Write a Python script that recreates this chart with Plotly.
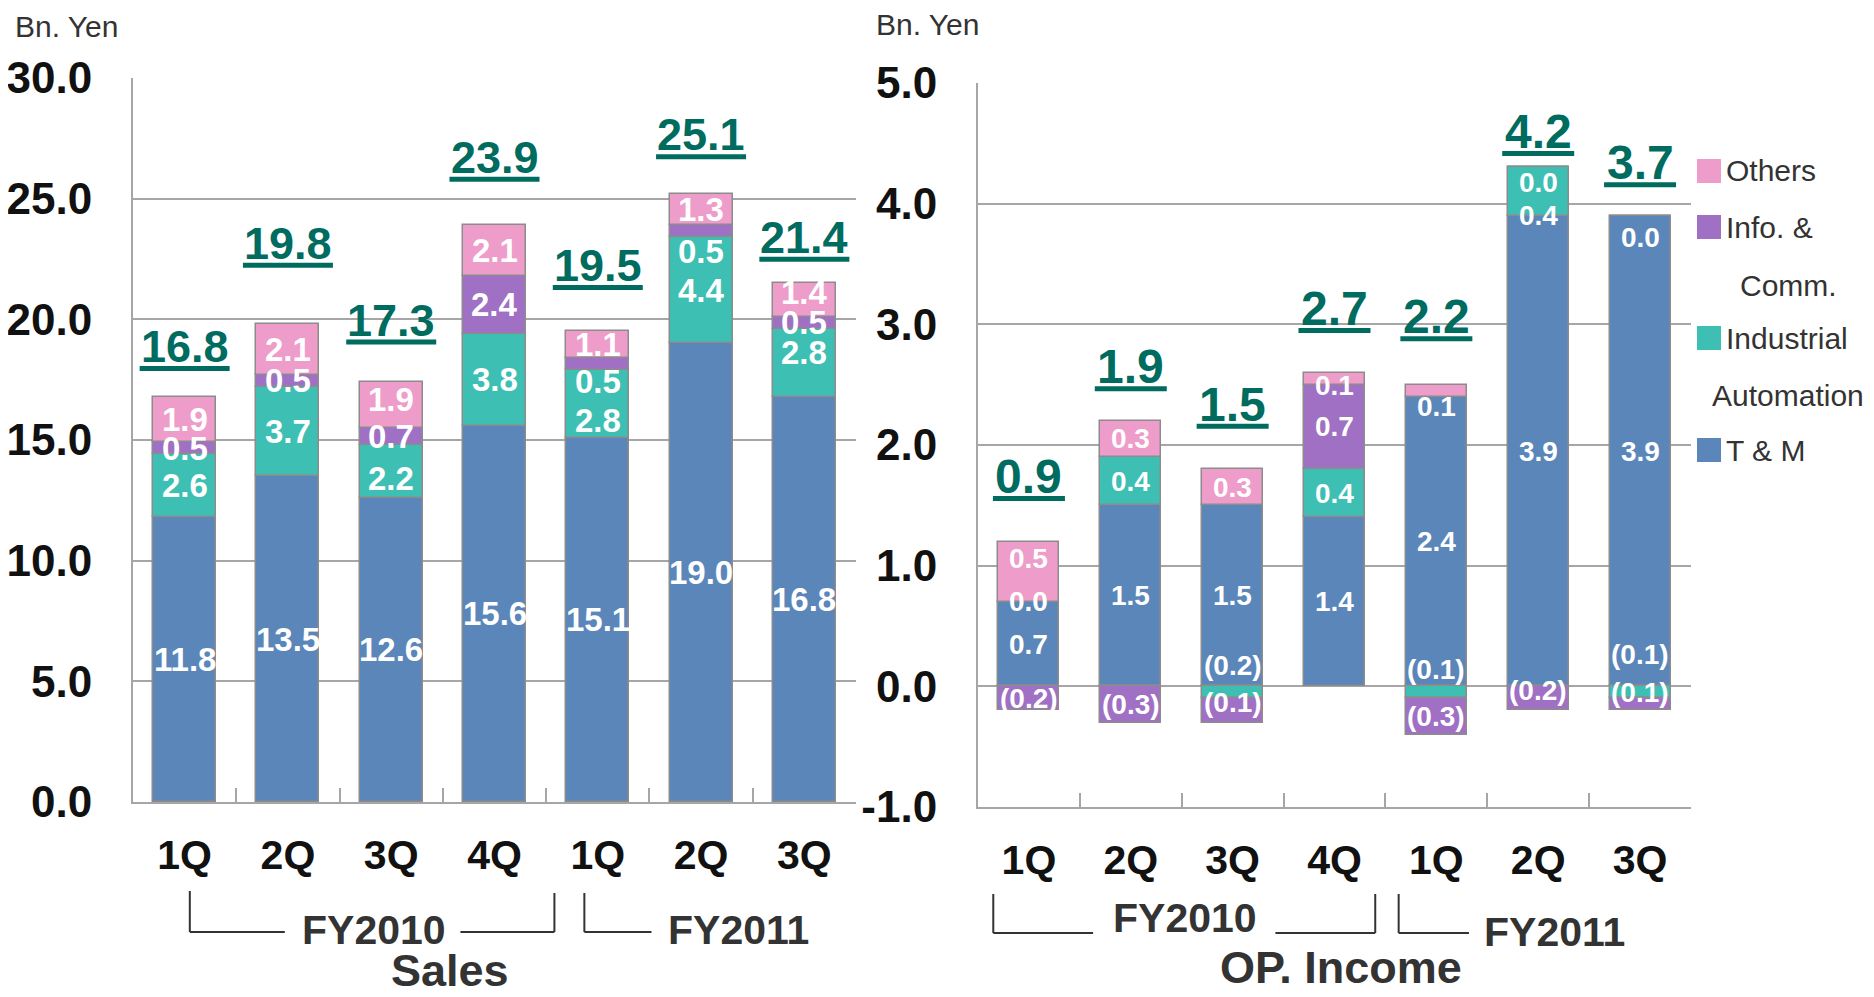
import plotly.graph_objects as go

# page body adds an 8px margin, so the figure is drawn 8px in from the window corner
PAGE_PAD = 8
W, H = 1874 - 2 * PAGE_PAD, 997 - 2 * PAGE_PAD

quarters = ["1Q", "2Q", "3Q", "4Q", "1Q", "2Q", "3Q"]
segments = ["T & M", "Industrial Automation", "Info. & Comm.", "Others"]

# Sales (Bn. Yen)
sales_tm = [11.8, 13.5, 12.6, 15.6, 15.1, 19.0, 16.8]
sales_ia = [2.6, 3.7, 2.2, 3.8, 2.8, 4.4, 2.8]
sales_ic = [0.5, 0.5, 0.7, 2.4, 0.5, 0.5, 0.5]
sales_oth = [1.9, 2.1, 1.9, 2.1, 1.1, 1.3, 1.4]
sales_total = [16.8, 19.8, 17.3, 23.9, 19.5, 25.1, 21.4]

# Operating income (Bn. Yen)
op_tm = [0.7, 1.5, 1.5, 1.4, 2.4, 3.9, 3.9]
op_ia = [0.0, 0.4, -0.1, 0.4, -0.1, 0.4, -0.1]
op_ic = [-0.2, -0.3, -0.2, 0.7, -0.3, -0.2, -0.1]
op_oth = [0.5, 0.3, 0.3, 0.1, 0.1, 0.0, 0.0]
op_total = [0.9, 1.9, 1.5, 2.7, 2.2, 4.2, 3.7]

sales_yticks = [0, 5, 10, 15, 20, 25, 30]
sales_yticktext = ["0.0", "5.0", "10.0", "15.0", "20.0", "25.0", "30.0"]
op_yticks = [-1, 0, 1, 2, 3, 4, 5]
op_yticktext = ["-1.0", "0.0", "1.0", "2.0", "3.0", "4.0", "5.0"]

colors = ["#5B86BA", "#3DBFB4", "#A070C4", "#EE9CC9"]
OUTLINE = "#8C8C8C"
GRID = "#A6A6A6"
TEAL_DARK = "#006B5F"
TXT = "#333333"
SANS = "Liberation Sans, Arial, sans-serif"


def px(x):
    return (x - PAGE_PAD) / W


def py(y):
    return 1 - (y - PAGE_PAD) / H


def fmt(v):
    return f"({abs(v):.1f})" if v < 0 else f"{v:.1f}"


def stack_centers(series):
    n = len(series[0])
    pos, neg = [0.0] * n, [0.0] * n
    centers = []
    for vals in series:
        c = []
        for i, v in enumerate(vals):
            if v >= 0:
                c.append(pos[i] + v / 2)
                pos[i] += v
            else:
                c.append(neg[i] + v / 2)
                neg[i] += v
        centers.append(c)
    return centers, pos


def note(x, y, text, size, color=TXT, xref="paper", yref="paper", xanchor="center", **kw):
    return dict(x=x, y=y, xref=xref, yref=yref, text=text, showarrow=False,
                xanchor=xanchor, yanchor="middle",
                font=dict(family=SANS, size=size, color=color), **kw)


fig = go.Figure()
xs = list(range(len(quarters)))

sales_series = [sales_tm, sales_ia, sales_ic, sales_oth]
op_series = [op_tm, op_ia, op_ic, op_oth]

for k, name in enumerate(segments):
    fig.add_trace(go.Bar(
        x=xs, y=sales_series[k], name=name, width=0.61,
        marker=dict(color=colors[k], line=dict(color=OUTLINE, width=1.5)),
        xaxis="x", yaxis="y", showlegend=False,
    ))
    fig.add_trace(go.Bar(
        x=xs, y=op_series[k], name=name, width=0.6,
        marker=dict(color=colors[k], line=dict(color=OUTLINE, width=1.5)),
        xaxis="x2", yaxis="y2", showlegend=False,
    ))

annotations = []
shapes = []

# segment value labels (pixel nudges follow the hand placement in the original)
sales_nudge = {(1, 4): -17, (2, 4): -18, (2, 5): -20, (1, 6): 10, (3, 6): 8,
               (3, 2): 6, (1, 2): -7}
op_nudge = {(3, 0): 13, (2, 2): 45, (1, 2): -10, (3, 3): -7, (3, 4): -16, (1, 4): 23,
            (3, 5): -15, (1, 5): -24, (2, 5): 8, (3, 6): -22, (2, 6): 50}

for series, nudge, xr, yr, size in [
    (sales_series, sales_nudge, "x", "y", 33),
    (op_series, op_nudge, "x2", "y2", 28),
]:
    centers, _ = stack_centers(series)
    for k, vals in enumerate(series):
        for i, v in enumerate(vals):
            annotations.append(note(i, centers[k][i], f"<b>{fmt(v)}</b>", size, "white",
                                    xref=xr, yref=yr, yshift=nudge.get((k, i), 0)))

# totals with thick underline
sales_lift = [50, 81, 62, 68, 66, 59, 46]
op_lift = [65, 54, 65, 64, 68, 36, 53]
for series, totals, lift, xr, yr, size, half in [
    (sales_series, sales_total, sales_lift, "x", "y", 45, 45),
    (op_series, op_total, op_lift, "x2", "y2", 48, 36),
]:
    _, tops = stack_centers(series)
    for i, t in enumerate(totals):
        annotations.append(note(i, tops[i], f"<b>{t:.1f}</b>", size, TEAL_DARK,
                                xref=xr, yref=yr, yshift=lift[i]))
        shapes.append(dict(
            type="line", xref=xr, yref=yr, xsizemode="pixel", ysizemode="pixel",
            xanchor=i, yanchor=tops[i], x0=-half, x1=half,
            y0=lift[i] - 22, y1=lift[i] - 22,
            line=dict(color=TEAL_DARK, width=5),
        ))


# fiscal-year brackets
def vline(xr, x, ytop, ybot):
    shapes.append(dict(type="line", xref=xr, yref="paper", x0=x, x1=x,
                       y0=py(ytop), y1=py(ybot), line=dict(color=TXT, width=2)))


def hline(xr, xa, xb, y):
    shapes.append(dict(type="line", xref=xr, yref="paper", x0=xa, x1=xb,
                       y0=py(y), y1=py(y), line=dict(color=TXT, width=2)))


# Sales side
vline("x", 0.05, 891, 932)
vline("x", 3.58, 893, 932)
hline("x", 0.05, 0.97, 932)
hline("x", 2.67, 3.58, 932)
vline("x", 3.87, 893, 932)
hline("x", 3.87, 4.52, 932)
# OP income side
vline("x2", -0.35, 894, 933)
vline("x2", 3.40, 894, 933)
hline("x2", -0.35, 0.63, 933)
hline("x2", 2.42, 3.40, 933)
vline("x2", 3.63, 894, 933)
hline("x2", 3.63, 4.32, 933)

for xr, xpos, ypos, text in [
    ("x", 1.83, 930, "FY2010"), ("x", 5.36, 930, "FY2011"),
    ("x2", 1.53, 918, "FY2010"), ("x2", 5.16, 932, "FY2011"),
]:
    annotations.append(note(xpos, py(ypos), f"<b>{text}</b>", 41, xref=xr))

annotations += [
    note(px(450), py(970), "<b>Sales</b>", 45),
    note(px(1341), py(967), "<b>OP. Income</b>", 45),
    note(px(13), py(26), "Bn. Yen", 30, xanchor="left"),
    note(px(874), py(24), "Bn. Yen", 30, xanchor="left"),
]

# legend
legend_rows = [
    (3, [("Others", 1724, 171)]),
    (2, [("Info. &", 1724, 227), ("Comm.", 1738, 285)]),
    (1, [("Industrial", 1724, 338), ("Automation", 1710, 395)]),
    (0, [("T & M", 1724, 450)]),
]
for k, lines in legend_rows:
    yc = lines[0][2]
    shapes.append(dict(type="rect", xref="paper", yref="paper",
                       x0=px(1697), x1=px(1721), y0=py(yc + 12), y1=py(yc - 12),
                       fillcolor=colors[k], line=dict(width=0)))
    for text, x, y in lines:
        annotations.append(note(px(x), py(y), text, 30, xanchor="left"))

xaxis_common = dict(
    range=[-0.5, 6.5], tickvals=xs, ticktext=[f"<b>{q}</b>" for q in quarters],
    tickfont=dict(family=SANS, size=41, color="#111111"), ticks="",
    showline=True, linecolor=GRID, linewidth=2, showgrid=False, zeroline=False,
    ticklabelstandoff=16, automargin=False,
    minor=dict(tickvals=[i + 0.5 for i in xs[:-1]], ticks="inside", ticklen=14,
               tickcolor=GRID, tickwidth=1.5),
)
yaxis_common = dict(
    tickfont=dict(family=SANS, size=44, color="#111111"),
    showline=True, linecolor=GRID, linewidth=2, showgrid=True, gridcolor=GRID,
    gridwidth=2, zeroline=False, ticks="", ticklabelstandoff=30, automargin=False,
)

fig.update_layout(
    width=W, height=H, barmode="relative", bargap=0, showlegend=False,
    margin=dict(l=0, r=0, t=0, b=0, pad=0, autoexpand=False),
    plot_bgcolor="white", paper_bgcolor="white",
    xaxis=dict(domain=[px(133), px(856)], anchor="y", **xaxis_common),
    yaxis=dict(domain=[py(802), py(78)], anchor="x", range=[0, 30],
               tickvals=sales_yticks, ticktext=[f"<b>{t}</b>" for t in sales_yticktext],
               **yaxis_common),
    xaxis2=dict(domain=[px(978), px(1691)], anchor="y2", **xaxis_common),
    yaxis2=dict(domain=[py(807), py(83)], anchor="x2", range=[-1, 5],
                tickvals=op_yticks, ticktext=[f"<b>{t}</b>" for t in op_yticktext],
                **yaxis_common),
    annotations=annotations,
    shapes=shapes,
)

fig.write_html("out.html")
